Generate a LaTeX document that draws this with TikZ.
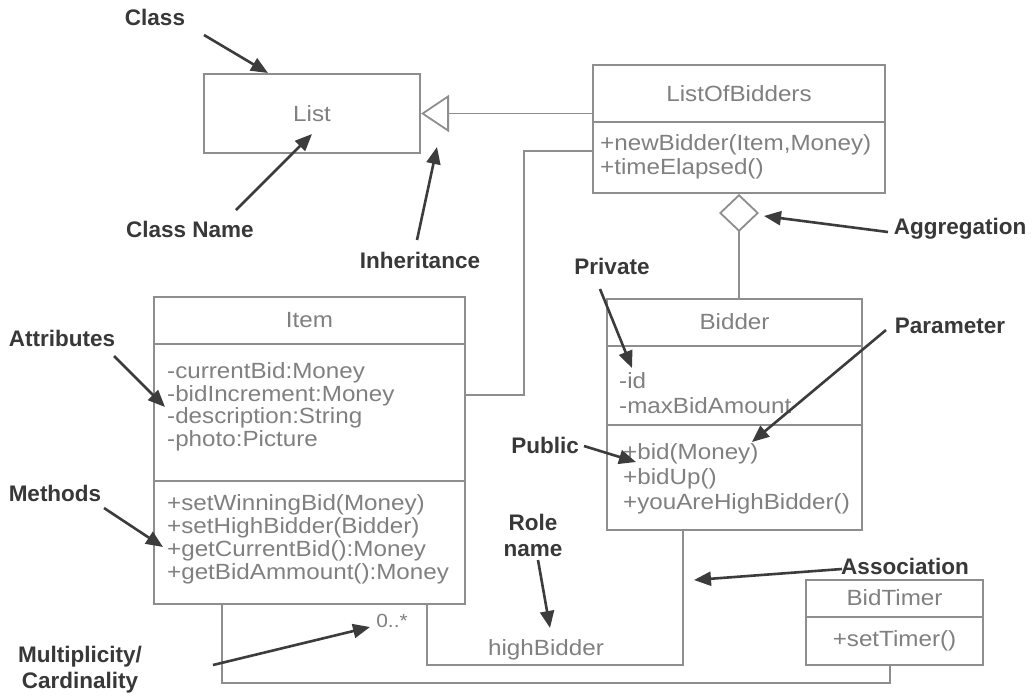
\documentclass[tikz,border=0pt]{standalone}
\usepackage{fontspec}
\setmainfont{Liberation Sans}
\newfontfamily\clsfont[FakeStretch=1.1]{Liberation Sans}
\usetikzlibrary{arrows.meta,calc}
\definecolor{boxline}{HTML}{8E8E8E}
\definecolor{boxtext}{HTML}{808080}
\definecolor{lbltext}{HTML}{383838}
\definecolor{ptrcol}{HTML}{3C3C3C}

\begin{document}
\begin{tikzpicture}[x=1pt,y=-1pt,
  cls/.style={draw=boxline, line width=2pt, rectangle, inner sep=0pt},
  sep/.style={draw=boxline, line width=1.8pt},
  assoc/.style={draw=boxline, line width=1.8pt},
  ctext/.style={text=boxtext, font=\clsfont\fontsize{22}{22.5}\selectfont, inner sep=0pt, align=left},
  lbl/.style={text=lbltext, font=\bfseries\fontsize{22.5}{26}\selectfont, inner sep=0pt, align=center},
  ptr/.style={draw=ptrcol, line width=2.6pt, -{Triangle[length=17pt,width=14pt]}},
]
\useasboundingbox[fill=white] (0,0) rectangle (1036,697);

% ---------- class boxes ----------
\node[cls, minimum width=216pt, minimum height=79pt]  (list)   at (312,113.5) {};
\node[cls, minimum width=292pt, minimum height=128pt] (lob)    at (739,129) {};
\node[cls, minimum width=311pt, minimum height=307pt] (item)   at (309.5,450.5) {};
\node[cls, minimum width=255pt, minimum height=231pt] (bidder) at (734.5,414.5) {};
\node[cls, minimum width=177pt, minimum height=85pt]  (timer)  at (894.5,622.5) {};

% compartment separators
\draw[sep] ($(lob.north west)+(0,58)$) -- ($(lob.north east)+(0,58)$);
\draw[sep] ($(item.north west)+(0,48)$) -- ($(item.north east)+(0,48)$);
\draw[sep] ($(item.north west)+(0,185)$) -- ($(item.north east)+(0,185)$);
\draw[sep] ($(bidder.north west)+(0,48)$) -- ($(bidder.north east)+(0,48)$);
\draw[sep] ($(bidder.north west)+(0,127)$) -- ($(bidder.north east)+(0,127)$);
\draw[sep] ($(timer.north west)+(0,38)$) -- ($(timer.north east)+(0,38)$);

% class names
\node[ctext] (listname)   at (list.center) {List};
\node[ctext] (lobname)    at ($(lob.north)+(0,30)$) {ListOfBidders};
\node[ctext] (itemname)   at ($(item.north)+(0,24)$) {Item};
\node[ctext] (biddername) at ($(bidder.north)+(0,24)$) {Bidder};
\node[ctext] (timername)  at ($(timer.north)+(0,19)$) {BidTimer};

% members
\node[ctext, anchor=west, font=\clsfont\fontsize{22}{23.5}\selectfont] (lobops) at (600,157) {+newBidder(Item,Money)\\+timeElapsed()};
\node[ctext, anchor=west] (itemattrs) at (167,407) {-currentBid:Money\\-bidIncrement:Money\\-description:String\\-photo:Picture};
\node[ctext, anchor=west, font=\clsfont\fontsize{22}{23}\selectfont] (itemops) at (167,539) {+setWinningBid(Money)\\+setHighBidder(Bidder)\\+getCurrentBid():Money\\+getBidAmmount():Money};
\node[ctext, anchor=west, font=\clsfont\fontsize{22}{24.5}\selectfont] (bidattrs) at (619,393) {-id\\-maxBidAmount};
\node[ctext, anchor=west, font=\clsfont\fontsize{22}{25}\selectfont] (bidops) at (623,479) {+bid(Money)\\+bidUp()\\+youAreHighBidder()};
\node[ctext] (timerops) at ($(timer.north)+(0,62)$) {+setTimer()};

% ---------- relationships ----------
% inheritance
\draw[assoc, -{Triangle[open, length=28pt, width=37pt]}] (lob.west |- list.east) -- (list.east);
% aggregation
\draw[assoc, {Diamond[open, length=38pt, width=40pt]}-] (lob.south) -- (lob.south |- bidder.north);
% ListOfBidders -- Item
\coordinate (bendA) at (524,151);
\coordinate (bendB) at (524,395);
\draw[assoc] (lob.west |- bendA) -- (bendA) -- (bendB) -- (item.east |- bendB);
% Item -- Bidder (role highBidder)
\coordinate (roleA) at (427,665);
\coordinate (roleB) at (683,665);
\draw[assoc] (item.south -| roleA) -- (roleA) -- (roleB) -- (bidder.south -| roleB);
% Item -- BidTimer
\coordinate (timA) at (222,683);
\coordinate (timB) at (890,683);
\draw[assoc] (item.south -| timA) -- (timA) -- (timB) -- (timer.south -| timB);

\node[ctext, font=\clsfont\fontsize{19}{20}\selectfont] (mult) at (392,621) {0..*};
\node[ctext] (role) at (546,650) {highBidder};

% ---------- annotations ----------
\node[lbl] (lClass)   at (155,17)  {Class};
\node[lbl] (lCName)   at (190,229) {Class Name};
\node[lbl] (lInh)     at (420,260) {Inheritance};
\node[lbl] (lAgg)     at (960,229) {Aggregation};
\node[lbl] (lPriv)    at (612,266) {Private};
\node[lbl] (lParam)   at (950,326) {Parameter};
\node[lbl] (lAttr)    at (62,338)  {Attributes};
\node[lbl] (lPub)     at (545,445) {Public};
\node[lbl] (lMeth)    at (55,493)  {Methods};
\node[lbl] (lRole)    at (533,535) {Role\\name};
\node[lbl] (lAssoc)   at (905,566) {Association};
\node[lbl] (lMult)    at (80,670)  {Multiplicity/\\Cardinality};

\coordinate (sClass) at (204,35);  \coordinate (tClass) at (268,73);
\coordinate (sCName) at (236,210); \coordinate (tCName) at (312,134);
\coordinate (sInh)   at (417,240); \coordinate (tInh)   at (437,147);
\coordinate (sAgg)   at (888,232); \coordinate (tAgg)   at (764,216);
\coordinate (sPriv)  at (600,289); \coordinate (tPriv)  at (632,368);
\coordinate (sParam) at (886,330); \coordinate (tParam) at (752,442);
\coordinate (sAttr)  at (114,356); \coordinate (tAttr)  at (165,407);
\coordinate (sPub)   at (584,446); \coordinate (tPub)   at (636,462);
\coordinate (sMeth)  at (104,508); \coordinate (tMeth)  at (163,547);
\coordinate (sRole)  at (538,560); \coordinate (tRole)  at (550,628);
\coordinate (sAssoc) at (842,569); \coordinate (tAssoc) at (694,580);
\coordinate (sMult)  at (213,665); \coordinate (tMult)  at (370,627);

\draw[ptr] (sClass) -- (tClass);
\draw[ptr] (sCName) -- (tCName);
\draw[ptr] (sInh) -- (tInh);
\draw[ptr] (sAgg) -- (tAgg);
\draw[ptr] (sPriv) -- (tPriv);
\draw[ptr] (sParam) -- (tParam);
\draw[ptr] (sAttr) -- (tAttr);
\draw[ptr] (sPub) -- (tPub);
\draw[ptr] (sMeth) -- (tMeth);
\draw[ptr] (sRole) -- (tRole);
\draw[ptr] (sAssoc) -- (tAssoc);
\draw[ptr] (sMult) -- (tMult);
\end{tikzpicture}
\end{document}
